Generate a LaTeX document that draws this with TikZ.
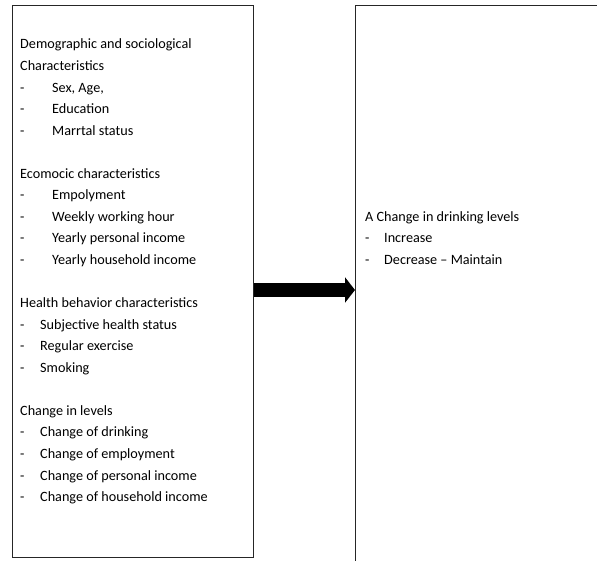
\documentclass[tikz,border=0pt]{standalone}
\usepackage{fontspec}
\setmainfont{Carlito}
\usetikzlibrary{arrows.meta}
\begin{document}
\begin{tikzpicture}[x=1pt,y=-1pt,
  frame/.style={draw=black!85, line width=1.2pt, inner sep=0pt, anchor=north west},
  txt/.style={anchor=base west, inner sep=0pt, font=\fontsize{14.2pt}{17pt}\selectfont, text=black},
  bigarrow/.style={line width=14pt, -{Triangle[length=10pt,width=25pt]}}]
\useasboundingbox (0,0) rectangle (597,561);
% boxes
\node[frame, minimum width=241pt, minimum height=552pt] (lb) at (12,5) {};
\node[frame, minimum width=243pt, minimum height=580pt] (rb) at (355,5) {};
% left texts
\node[txt] (t1) at (20,49) {Demographic and sociological};
\node[txt] (t2) at (20,70.55) {Characteristics};
\node[txt] (d3) at (20,92.1) {-};  \node[txt] (t3) at (52,92.1) {Sex, Age,};
\node[txt] (d4) at (20,113.65) {-}; \node[txt] (t4) at (52,113.65) {Education};
\node[txt] (d5) at (20,135.2) {-}; \node[txt] (t5) at (52,135.2) {Marrtal status};
\node[txt] (t6) at (20,178.3) {Ecomocic characteristics};
\node[txt] (d7) at (20,199.85) {-}; \node[txt] (t7) at (52,199.85) {Empolyment};
\node[txt] (d8) at (20,221.4) {-}; \node[txt] (t8) at (52,221.4) {Weekly working hour};
\node[txt] (d9) at (20,242.95) {-}; \node[txt] (t9) at (52,242.95) {Yearly personal income};
\node[txt] (d10) at (20,264.5) {-}; \node[txt] (t10) at (52,264.5) {Yearly household income};
\node[txt] (t11) at (20,307.6) {Health behavior characteristics};
\node[txt] (d12) at (20,329.15) {-}; \node[txt] (t12) at (40,329.15) {Subjective health status};
\node[txt] (d13) at (20,350.7) {-}; \node[txt] (t13) at (40,350.7) {Regular exercise};
\node[txt] (d14) at (20,372.25) {-}; \node[txt] (t14) at (40,372.25) {Smoking};
\node[txt] (t15) at (20,415.35) {Change in levels};
\node[txt] (d16) at (20,436.9) {-}; \node[txt] (t16) at (40,436.9) {Change of drinking};
\node[txt] (d17) at (20,458.45) {-}; \node[txt] (t17) at (40,458.45) {Change of employment};
\node[txt] (d18) at (20,480) {-}; \node[txt] (t18) at (40,480) {Change of personal income};
\node[txt] (d19) at (20,501.55) {-}; \node[txt] (t19) at (40,501.55) {Change of household income};
% right texts
\node[txt] (r1) at (365,221.4) {A Change in drinking levels};
\node[txt] (rd2) at (365,242.95) {-}; \node[txt] (r2) at (384,242.95) {Increase};
\node[txt] (rd3) at (365,264.5) {-}; \node[txt] (r3) at (384,264.5) {Decrease – Maintain};
% arrow
\coordinate (ay) at (0,290);
\draw[bigarrow] (lb.east |- ay) -- (rb.west |- ay);
\end{tikzpicture}
\end{document}
